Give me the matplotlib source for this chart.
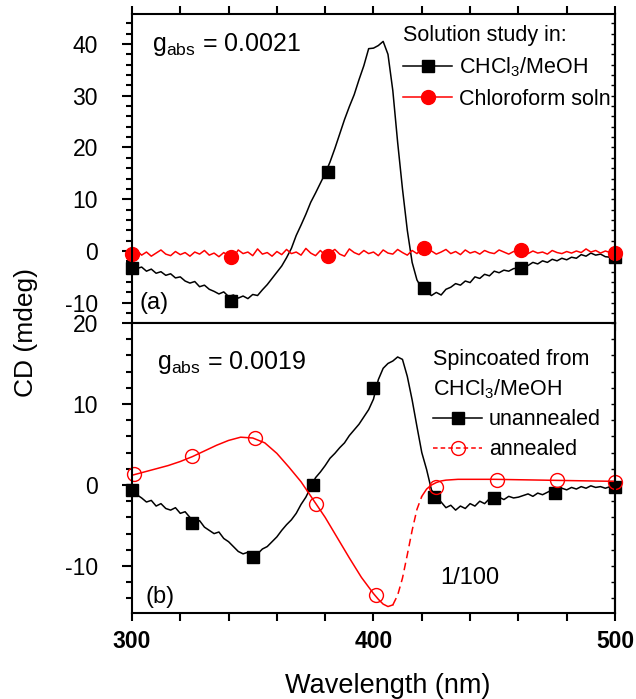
import numpy as np
import matplotlib
matplotlib.use("Agg")
import matplotlib.pyplot as plt
from matplotlib.lines import Line2D
from matplotlib.ticker import MultipleLocator

plt.rcParams['font.family'] = ['Liberation Sans', 'DejaVu Sans']
plt.rcParams['mathtext.fontset'] = 'custom'
plt.rcParams['mathtext.rm'] = 'Liberation Sans'
plt.rcParams['mathtext.it'] = 'Liberation Sans:italic'
plt.rcParams['axes.unicode_minus'] = False

# wavelength grid of the spectra (nm)
wl = np.arange(300, 501, 2)

# (a) solution CD, CHCl3/MeOH
sol_mix = [
    -2.8, -3.4, -3.1, -3.9, -3.5, -4.3, -4.0, -4.7, -4.4, -5.2,
    -5.0, -5.8, -6.2, -5.9, -6.9, -6.6, -7.4, -7.8, -8.3, -7.9,
    -8.8, -8.5, -9.1, -8.7, -9.2, -8.4, -8.6, -7.5, -6.5, -5.3,
    -4.1, -2.9, -1.3, 0.5, 3.0, 5.0, 7.1, 9.4, 11.2, 13.1,
    15.0, 17.2, 19.8, 22.6, 25.4, 27.9, 30.2, 33.1, 35.8, 39.1,
    39.2, 39.7, 40.5, 38.0, 31.0, 21.0, 12.0, 4.0, -2.2, -5.6,
    -7.2, -7.9, -8.6, -8.0, -8.5, -7.4, -7.0, -6.3, -6.6, -5.8,
    -6.1, -5.0, -5.3, -4.5, -4.8, -3.9, -4.2, -3.7, -3.9, -3.4,
    -3.3, -2.4, -2.8, -2.2, -2.5, -1.9, -2.2, -1.6, -1.9, -1.4,
    -1.7, -1.2, -1.4, -0.7, -1.0, -0.4, -0.8, -0.6, -1.1, -1.2,
    -1.3,
]
# (a) solution CD, chloroform
sol_chcl3 = [
    -0.3, 0.1, -0.8, -0.2, -1.0, -0.4, 0.2, -0.6, -0.9, -0.1,
    -0.7, -0.3, -1.0, -0.2, -0.6, 0.1, -0.8, -0.4, -1.1, -0.3,
    -0.9, -1.2, 0.2, -0.5, -0.2, -0.9, 0.4, -0.6, -0.3, -1.0,
    -0.1, -0.7, 0.3, -0.5, -0.2, -0.8, 0.5, -0.4, -0.9, 0.1,
    -0.8, -0.3, 0.3, -0.6, -1.0, 0.4, -0.3, -0.7, 0.1, -0.5,
    -0.2, -0.9, 0.2, -0.4, -0.6, 0.3, -0.3, -0.8, 0.1, -0.5,
    0.5, -0.3, 0.0, -0.6, -0.2, 0.3, -0.5, -0.1, -0.7, 0.2,
    -0.4, -0.1, -0.6, 0.1, -0.3, -0.5, 0.2, -0.2, -0.6, -0.1,
    0.2, -0.3, -0.5, 0.0, -0.4, -0.2, -0.6, 0.1, -0.3, -0.5,
    -0.1, -0.4, 0.0, -0.3, 0.4, -0.2, 0.1, -0.4, 0.0, -0.3,
    -0.4,
]
mark_a_x = [300, 341, 381, 421, 461, 500]
mark_mix_y = [-3.2, -9.7, 15.3, -7.2, -3.3, -1.2]
mark_chcl3_y = [-0.5, -1.2, -0.9, 0.5, 0.2, -0.4]

# (b) spincoated film, unannealed
film_un = [
    -0.6, -1.2, -1.6, -2.1, -1.9, -2.6, -2.3, -2.9, -3.1, -2.8,
    -3.5, -3.3, -4.0, -4.7, -4.4, -5.2, -5.6, -6.0, -5.8, -6.6,
    -7.0, -7.6, -8.2, -8.5, -8.3, -8.9, -8.5, -7.9, -7.6, -7.0,
    -6.4, -5.6, -4.9, -4.3, -3.5, -2.4, -1.5, -0.3, 0.9, 1.6,
    2.4, 3.3, 3.9, 4.6, 5.2, 6.1, 6.8, 7.5, 8.4, 9.3,
    10.6, 13.0, 14.4, 15.0, 15.3, 15.8, 15.5, 13.4, 10.5, 7.2,
    4.0, 1.9, -0.6, -1.5, -2.1, -2.8, -2.5, -3.1, -2.6, -2.9,
    -2.3, -2.6, -2.0, -2.3, -1.7, -1.9, -1.5, -1.8, -1.4, -1.6,
    -1.5, -1.3, -1.1, -1.4, -1.0, -1.2, -0.9, -0.6, -0.8, -0.4,
    -0.6, -0.3, -0.5, -0.2, -0.4, -0.1, -0.3, -0.2, -0.4, -0.2,
    -0.3,
]
mark_b_x = [300, 325, 350, 375, 400, 425, 450, 475, 500]
mark_un_y = [-0.6, -4.7, -8.9, 0.0, 12.0, -1.5, -1.6, -1.0, -0.3]

# (b) spincoated film, annealed (scaled by 1/100)
ann_x = [300, 305, 310, 315, 320, 325, 330, 335, 340, 345,
         350, 355, 360, 365, 370, 375, 380, 385, 390, 395,
         400, 402, 404, 406, 408]
ann_y = [1.2, 1.6, 2.0, 2.4, 2.9, 3.5, 4.2, 4.9, 5.5, 5.9,
         5.8, 5.2, 3.9, 2.2, 0.4, -1.8, -4.0, -6.5, -9.0, -11.4,
         -13.4, -14.1, -14.7, -15.0, -14.8]
ann_dash_x = [408, 410, 412, 414, 416, 418, 420]
ann_dash_y = [-14.8, -13.6, -11.5, -8.6, -5.6, -3.0, -1.4]
ann_tail_x = [420, 422, 424, 426, 428, 430, 435, 440, 450, 460,
              470, 480, 490, 500]
ann_tail_y = [-1.4, -0.5, 0.0, 0.3, 0.5, 0.6, 0.7, 0.7, 0.7, 0.65,
              0.6, 0.55, 0.5, 0.45]
mark_ann_x = [301, 325, 351, 376, 401, 426, 451, 476, 500]
mark_ann_y = [1.3, 3.6, 5.8, -2.3, -13.6, -0.2, 0.6, 0.6, 0.4]

fig = plt.figure(figsize=(6.36, 6.99), dpi=100)
ax1 = fig.add_axes([0.2075, 0.538, 0.7595, 0.442])
ax2 = fig.add_axes([0.2075, 0.123, 0.7595, 0.415], sharex=ax1)

fs = 15.5
lw = 1.1

# panel (a)
ax1.plot(wl, sol_mix, color='black', lw=lw)
ax1.plot(mark_a_x, mark_mix_y, 's', color='black', ms=9, clip_on=False)
ax1.plot(wl, sol_chcl3, color='red', lw=lw)
ax1.plot(mark_a_x, mark_chcl3_y, 'o', color='red', ms=10, clip_on=False)
ax1.set_ylim(-13.9, 45.8)
ax1.yaxis.set_major_locator(MultipleLocator(10))
ax1.yaxis.set_minor_locator(MultipleLocator(2))

h_mix = Line2D([], [], color='black', lw=lw, marker='s', ms=9)
h_chcl3 = Line2D([], [], color='red', lw=lw, marker='o', ms=10)
ax1.legend([h_mix, h_chcl3], ['CHCl$_3$/MeOH', 'Chloroform soln'],
           title='Solution study in:', loc='upper left',
           bbox_to_anchor=(0.561, 0.965), frameon=False,
           fontsize=fs, title_fontsize=fs, handlelength=2.3,
           handletextpad=0.3, borderaxespad=0, labelspacing=0.45,
           alignment='left', borderpad=0)
ax1.text(0.041, 0.9, 'g$_{\\mathrm{abs}}$ = 0.0021', transform=ax1.transAxes,
         fontsize=18, va='center')
ax1.text(0.016, 0.065, '(a)', transform=ax1.transAxes, fontsize=17,
         va='center')

# panel (b)
ax2.plot(wl, film_un, color='black', lw=lw)
ax2.plot(mark_b_x, mark_un_y, 's', color='black', ms=9, clip_on=False)
ax2.plot(ann_x, ann_y, color='red', lw=lw)
ax2.plot(ann_dash_x, ann_dash_y, color='red', lw=lw, ls=(0, (5, 3)))
ax2.plot(ann_tail_x, ann_tail_y, color='red', lw=lw)
ax2.plot(mark_ann_x, mark_ann_y, 'o', mfc='none', mec='red', mew=1.0,
         ms=10, clip_on=False)
ax2.set_ylim(-15.8, 20)
ax2.yaxis.set_major_locator(MultipleLocator(10))
ax2.yaxis.set_minor_locator(MultipleLocator(2))

h_un = Line2D([], [], color='black', lw=lw, marker='s', ms=9)
h_ann = Line2D([], [], color='red', lw=lw, ls=(0, (3, 2)), marker='o',
               mfc='none', mec='red', ms=10)
leg2 = ax2.legend([h_un, h_ann], ['unannealed', 'annealed'],
                  title='Spincoated from\nCHCl$_3$/MeOH', loc='upper left',
                  bbox_to_anchor=(0.623, 0.91), frameon=False, fontsize=fs,
                  title_fontsize=fs, handlelength=2.3, handletextpad=0.3,
                  borderaxespad=0, labelspacing=0.4, alignment='left',
                  borderpad=0)
leg2.get_title().set_linespacing(1.4)
ax2.text(0.052, 0.862, 'g$_{\\mathrm{abs}}$ = 0.0019',
         transform=ax2.transAxes, fontsize=18, va='center')
ax2.text(0.029, 0.055, '(b)', transform=ax2.transAxes, fontsize=17,
         va='center')
ax2.text(0.638, 0.122, '1/100', transform=ax2.transAxes, fontsize=17,
         va='center')

ax2.set_xlim(300, 500)
ax2.xaxis.set_major_locator(MultipleLocator(100))
ax2.xaxis.set_minor_locator(MultipleLocator(20))
ax2.tick_params(axis='x', which='major', labelsize=16.5, length=6, width=1.5,
                direction='out', pad=6)
ax2.tick_params(axis='x', which='minor', length=6, width=1.5, direction='out')
ax1.tick_params(axis='x', which='both', direction='out', top=True,
                bottom=True, labelbottom=False, length=6, width=1.5)

for ax in (ax1, ax2):
    for sp in ax.spines.values():
        sp.set_linewidth(1.5)
    ax.tick_params(axis='y', which='major', labelsize=16.5, length=7.5,
                   width=1.5, direction='out', pad=17)
    ax.tick_params(axis='y', which='minor', length=4, width=1.5,
                   direction='out')
    sec = ax.secondary_yaxis('right')
    sec.yaxis.set_major_locator(MultipleLocator(10))
    sec.yaxis.set_minor_locator(MultipleLocator(2))
    sec.tick_params(which='both', direction='in', labelright=False,
                    length=3, width=1.0)
    sec.spines['right'].set_linewidth(1.5)

for lab in ax2.get_xticklabels():
    lab.set_fontweight('bold')

fig.text(0.041, 0.525, 'CD (mdeg)', rotation=90, fontsize=19,
         va='center', ha='center')
fig.text(0.61, 0.019, 'Wavelength (nm)', fontsize=19.5, ha='center',
         va='center')

fig.savefig('out.png', dpi=100)
